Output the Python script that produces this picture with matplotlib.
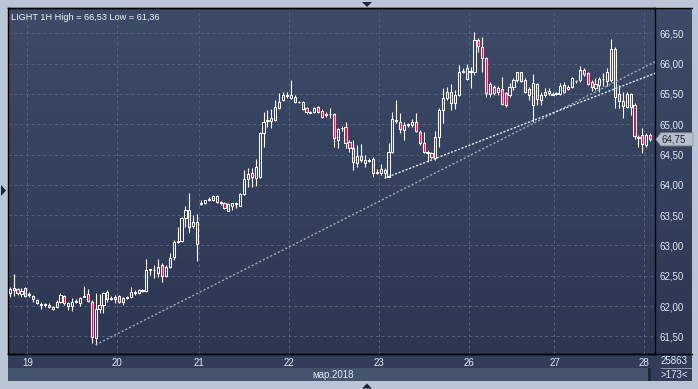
import matplotlib
matplotlib.use("Agg")
import matplotlib.pyplot as plt
import numpy as np
from matplotlib.colors import LinearSegmentedColormap
from matplotlib.lines import Line2D
from matplotlib.patches import Polygon, Rectangle

FIG_W, FIG_H = 698, 389

title = "LIGHT 1H High = 66,53 Low = 61,36"
month_label = "мар.2018"
days = ["19", "20", "21", "22", "23", "26", "27", "28"]
bars_before = 5  # evening of Fri 16th
bars_per_day = [23, 21, 23, 23, 23, 22, 23]
y_ticks = [61.5, 62.0, 62.5, 63.0, 63.5, 64.0, 64.5, 65.0, 65.5, 66.0, 66.5]
last_price = 64.75
counter_top = "25863"
counter_bottom = ">173<"

# hourly candles, grouped by day (16, 19, 20, 21, 22, 23, 26, 27, 28)
opens = [
    62.21, 62.30, 62.28, 62.20, 62.30,
    62.18, 62.16, 62.10, 62.02, 62.02, 62.02, 61.98, 61.98, 62.07, 62.16, 62.00, 62.00,
    62.07, 62.05, 62.16, 62.20, 62.07, 61.47, 61.95, 62.02, 62.23, 62.12, 62.12,
    62.16, 62.07, 62.13, 62.15, 62.21, 62.21, 62.25, 62.25, 62.59, 62.59, 62.54, 62.68,
    62.50, 62.64, 62.81, 63.06, 63.07, 63.45, 63.58, 63.32, 63.39,
    63.68, 63.70, 63.75, 63.75, 63.82, 63.72, 63.70, 63.57, 63.65, 63.70, 63.65, 63.85,
    64.10, 64.19, 64.11, 64.13, 64.85, 65.05, 65.10, 65.07, 65.27, 65.40, 65.47,
    65.48, 65.45, 65.37, 65.37, 65.27, 65.20, 65.20, 65.28, 65.22, 65.17, 65.17, 65.17,
    64.74, 64.94, 64.95, 64.71, 64.61, 64.36, 64.48, 64.41, 64.41, 64.43, 64.21,
    64.19, 64.24, 64.13, 64.54, 65.07, 65.04, 64.90, 64.99, 64.99, 65.04, 64.87, 64.69,
    64.54, 64.53, 64.44, 64.79, 65.23, 65.43, 65.53, 65.35, 65.48, 65.86, 65.93,
    65.86, 65.86, 66.39, 66.27, 66.09, 65.50, 65.61, 65.53, 65.58, 65.51, 65.48,
    65.61, 65.73, 65.86, 65.73, 65.58, 65.32, 65.66, 65.40, 65.48, 65.55, 65.50,
    65.50, 65.50, 65.53, 65.61, 65.61, 65.71, 65.73, 65.89, 65.85, 65.70, 65.60, 65.65,
    65.75, 65.71, 65.73, 66.24, 65.50, 65.38, 65.28, 65.50, 65.32, 64.79, 64.82,
    64.66, 64.82,
]
highs = [
    62.31, 62.53, 62.30, 62.30, 62.31,
    62.23, 62.18, 62.12, 62.07, 62.05, 62.05, 62.00, 62.10, 62.21, 62.18, 62.07, 62.13,
    62.12, 62.15, 62.33, 62.28, 62.10, 62.21, 62.20, 62.23, 62.26, 62.16, 62.18,
    62.18, 62.15, 62.16, 62.31, 62.26, 62.28, 62.28, 62.78, 62.61, 62.68, 62.78, 62.71,
    62.68, 62.87, 63.09, 63.30, 63.47, 63.65, 63.86, 63.50, 63.52,
    63.75, 63.75, 63.80, 63.83, 63.83, 63.73, 63.72, 63.70, 63.70, 63.72, 63.86, 64.24,
    64.28, 64.28, 64.43, 64.87, 65.20, 65.23, 65.25, 65.40, 65.51, 65.53, 65.53,
    65.73, 65.48, 65.38, 65.38, 65.28, 65.22, 65.28, 65.30, 65.25, 65.20, 65.27, 65.18,
    64.94, 64.97, 65.04, 64.74, 64.74, 64.66, 64.67, 64.49, 64.44, 64.46, 64.26,
    64.34, 64.28, 64.69, 65.20, 65.40, 65.18, 65.04, 65.02, 65.09, 65.18, 64.90, 64.87,
    64.57, 64.54, 64.89, 65.27, 65.60, 65.61, 65.66, 65.56, 65.98, 65.93, 65.99,
    65.94, 66.53, 66.42, 66.44, 66.11, 65.70, 65.65, 65.63, 65.78, 65.53, 65.68,
    65.76, 65.86, 65.86, 65.76, 65.61, 65.83, 65.68, 65.53, 65.60, 65.60, 65.53,
    65.53, 65.68, 65.70, 65.65, 65.78, 65.73, 65.96, 65.93, 65.86, 65.73, 65.76, 65.78,
    65.85, 65.93, 66.41, 66.27, 65.65, 65.53, 65.53, 65.51, 65.35, 64.82, 64.94,
    64.85, 64.85,
]
lows = [
    62.15, 62.16, 62.18, 62.15, 62.15,
    62.15, 62.07, 62.03, 61.95, 61.98, 61.97, 61.93, 61.97, 62.05, 62.02, 61.93, 61.92,
    62.05, 62.00, 62.15, 62.07, 61.39, 61.36, 61.88, 61.88, 62.07, 62.10, 62.05,
    62.05, 62.02, 62.12, 62.13, 62.18, 62.20, 62.23, 62.23, 62.51, 62.46, 62.48, 62.40,
    62.48, 62.63, 62.76, 63.04, 63.06, 63.30, 63.20, 63.29, 62.74,
    63.67, 63.68, 63.73, 63.73, 63.70, 63.67, 63.60, 63.57, 63.58, 63.62, 63.65, 63.83,
    63.96, 63.96, 63.98, 64.11, 64.62, 64.95, 64.94, 65.05, 65.25, 65.38, 65.43,
    65.42, 65.35, 65.35, 65.23, 65.17, 65.18, 65.18, 65.18, 65.10, 65.12, 65.10, 64.62,
    64.61, 64.89, 64.61, 64.54, 64.24, 64.29, 64.38, 64.29, 64.38, 64.13, 64.18,
    64.16, 64.11, 64.13, 64.53, 65.02, 64.85, 64.74, 64.95, 64.95, 64.87, 64.66, 64.53,
    64.38, 64.44, 64.41, 64.62, 65.02, 65.40, 65.23, 65.25, 65.47, 65.85, 65.73,
    65.60, 65.81, 66.19, 65.86, 65.45, 65.45, 65.48, 65.48, 65.32, 65.28, 65.45,
    65.56, 65.70, 65.70, 65.51, 65.40, 65.04, 65.32, 65.32, 65.45, 65.48, 65.48,
    65.48, 65.48, 65.51, 65.56, 65.60, 65.68, 65.70, 65.80, 65.65, 65.55, 65.56, 65.53,
    65.63, 65.63, 65.70, 65.27, 65.27, 65.10, 65.27, 65.15, 64.76, 64.62, 64.53,
    64.62, 64.72,
]
closes = [
    62.28, 62.26, 62.21, 62.25, 62.16,
    62.20, 62.12, 62.05, 62.03, 62.03, 61.98, 61.95, 62.07, 62.18, 62.05, 62.05, 62.07,
    62.08, 62.13, 62.15, 62.08, 61.49, 61.95, 62.02, 62.21, 62.12, 62.13, 62.15,
    62.07, 62.13, 62.15, 62.23, 62.23, 62.26, 62.26, 62.59, 62.61, 62.60, 62.64, 62.50,
    62.64, 62.79, 63.06, 63.07, 63.45, 63.58, 63.30, 63.39, 63.02,
    63.70, 63.75, 63.77, 63.82, 63.72, 63.70, 63.62, 63.68, 63.70, 63.69, 63.85, 64.10,
    64.18, 64.13, 64.29, 64.85, 65.04, 65.07, 65.05, 65.28, 65.37, 65.48, 65.48,
    65.43, 65.37, 65.36, 65.25, 65.20, 65.19, 65.27, 65.20, 65.12, 65.16, 65.17, 64.77,
    64.92, 64.93, 64.69, 64.61, 64.38, 64.48, 64.41, 64.36, 64.40, 64.19, 64.20,
    64.26, 64.19, 64.54, 65.09, 65.05, 64.92, 64.99, 65.00, 65.04, 64.89, 64.69, 64.54,
    64.53, 64.46, 64.79, 65.23, 65.43, 65.53, 65.35, 65.48, 65.86, 65.88, 65.75,
    65.88, 66.39, 66.29, 66.09, 65.51, 65.66, 65.51, 65.60, 65.33, 65.32, 65.61,
    65.73, 65.86, 65.71, 65.53, 65.48, 65.68, 65.42, 65.48, 65.53, 65.51, 65.49,
    65.51, 65.63, 65.65, 65.58, 65.76, 65.72, 65.89, 65.83, 65.66, 65.61, 65.66, 65.75,
    65.74, 65.86, 66.24, 65.45, 65.38, 65.30, 65.50, 65.28, 64.81, 64.78, 64.67,
    64.82, 64.75,
]

# trend lines: two anchor points (bar index, price), extended to the right edge
long_trend = [(22, 61.36), (118, 64.49)]
short_trend = [(96, 64.11), (118, 64.66)]

FRAME = "#bac6d5"
BG_TOP, BG_BOTTOM = "#3d4b68", "#2c3752"
DATE_BAND = "#323e59"
MONTH_BAND = "#45536d"
GRID = "#56627d"
RED = "#e3123f"
TEXT = "#dfe8f6"


def fig_box(left, top, right, bottom):
    # pixel box (from top-left corner) -> [x, y, w, h] figure fractions
    return [left / FIG_W, 1 - bottom / FIG_H, (right - left) / FIG_W, (bottom - top) / FIG_H]


def fig_pt(px, py):
    return px / FIG_W, 1 - py / FIG_H


def add_rect(fig, left, top, right, bottom, color):
    x, y, w, h = fig_box(left, top, right, bottom)
    fig.add_artist(Rectangle((x, y), w, h, transform=fig.transFigure,
                             facecolor=color, edgecolor="none", zorder=0.5))


def extend(points, x_end):
    (x0, y0), (x1, y1) = points
    slope = (y1 - y0) / (x1 - x0)
    return [x0, x_end], [y0, y0 + slope * (x_end - x0)]


plt.rcParams["font.family"] = ["Liberation Sans", "DejaVu Sans"]

fig = plt.figure(figsize=(FIG_W / 100, FIG_H / 100), dpi=100)
fig.patch.set_facecolor(FRAME)

## gradient panel behind chart + price scale
bg = fig.add_axes(fig_box(8, 8, 692, 354))
bg.set_zorder(0)
cmap = LinearSegmentedColormap.from_list("bg", [BG_BOTTOM, BG_TOP])
bg.imshow(np.linspace(0, 1, 256).reshape(-1, 1), cmap=cmap, aspect="auto",
          extent=(0, 1, 0, 1), origin="lower")
bg.axis("off")

## bottom strips
add_rect(fig, 8, 354, 692, 368, DATE_BAND)
add_rect(fig, 8, 368, 648, 381, MONTH_BAND)
add_rect(fig, 648, 368, 651, 381, "#1f2839")
add_rect(fig, 651, 368, 692, 381, DATE_BAND)

ax = fig.add_axes(fig_box(8, 8, 655, 354))
ax.set_zorder(2)
ax.set_facecolor("none")

n = len(opens)
x = np.arange(n)
o, h, l, c = map(np.array, (opens, highs, lows, closes))
top = np.maximum(o, c)
bot = np.minimum(o, c)

ax.vlines(x, top, h, color="white", linewidth=0.8, zorder=3)
ax.vlines(x, l, bot, color="white", linewidth=0.8, zorder=3)
faces = [RED if cc < oo else "none" for oo, cc in zip(opens, closes)]
ax.bar(x, top - bot, bottom=bot, width=0.55, color=faces, edgecolor="white",
       linewidth=0.75, zorder=4)

x_left, x_right = -0.44, 165.24
lx, ly = extend(long_trend, x_right)
ax.plot(lx, ly, color="#a1aabd", linewidth=1.0, linestyle=(0, (1.5, 1.5)), zorder=5)
sx, sy = extend(short_trend, x_right)
ax.plot(sx, sy, color="#e4e8ef", linewidth=1.0, linestyle=(0, (1.5, 1.2)), zorder=5)

ax.set_xlim(x_left, x_right)
ax.set_ylim(61.208, 66.918)

day_edges = np.cumsum([bars_before] + bars_per_day) - 0.5
ax.set_xticks(day_edges)
ax.set_xticklabels(days)
ax.set_yticks(y_ticks)
ax.set_yticklabels([f"{v:.2f}".replace(".", ",") for v in y_ticks])
ax.yaxis.tick_right()
ax.tick_params(axis="x", length=0, pad=3, labelsize=7, labelcolor=TEXT)
ax.tick_params(axis="y", length=0, pad=3.5, labelsize=7, labelcolor=TEXT)
ax.grid(True, color=GRID, linestyle=(0, (3, 3)), linewidth=0.7)
ax.set_axisbelow(True)
for sp in ax.spines.values():
    sp.set_color("black")
    sp.set_linewidth(1.0)

ax.text(0.004, 0.985, title, transform=ax.transAxes, ha="left", va="top",
        fontsize=6.6, color="#f2f5fa")

## separators across the full width
for py in (8, 354):
    (x0, y0), (x1, _) = fig_pt(8, py), fig_pt(692, py)
    fig.add_artist(Line2D([x0, x1], [y0, y0], color="black", linewidth=1.0, zorder=2.5))

mx, my = fig_pt(333, 374.5)
fig.text(mx, my, month_label, ha="center", va="center", fontsize=7, color=TEXT, zorder=3)

## last price tag
ty = 33.3 + (66.5 - last_price) * 60.6
tag = [fig_pt(656, ty), fig_pt(661, ty - 6.5), fig_pt(693, ty - 6.5),
       fig_pt(693, ty + 6.5), fig_pt(661, ty + 6.5)]
fig.add_artist(Polygon(tag, closed=True, transform=fig.transFigure,
                       facecolor="#b7bfcb", edgecolor="#8c96a6", linewidth=0.6, zorder=6))
tx, tyf = fig_pt(662, ty)
fig.text(tx, tyf, f"{last_price:.2f}".replace(".", ","), ha="left", va="center",
         fontsize=7, color="#1b2333", zorder=7)

## counter box
cx, cy = fig_pt(674, 361)
fig.text(cx, cy, counter_top, ha="center", va="center", fontsize=7, color=TEXT, zorder=3)
cx, cy = fig_pt(674, 374.5)
fig.text(cx, cy, counter_bottom, ha="center", va="center", fontsize=7, color=TEXT, zorder=3)
(x0, y0), (x1, _) = fig_pt(661, 368), fig_pt(691, 368)
fig.add_artist(Line2D([x0, x1], [y0, y0], color="#9aa6ba", linewidth=0.6, zorder=3))

## scroll arrows on the frame
arrow = "#1c2535"
for pts in ([(362, 2), (372, 2), (367, 7)],
            [(362, 388.5), (372, 388.5), (367, 383.5)],
            [(1, 185), (1, 196), (6, 190.5)]):
    fig.add_artist(Polygon([fig_pt(*p) for p in pts], closed=True,
                           transform=fig.transFigure, facecolor=arrow,
                           edgecolor="none", zorder=6))

fig.savefig("out.png", dpi=100, facecolor=fig.get_facecolor())
